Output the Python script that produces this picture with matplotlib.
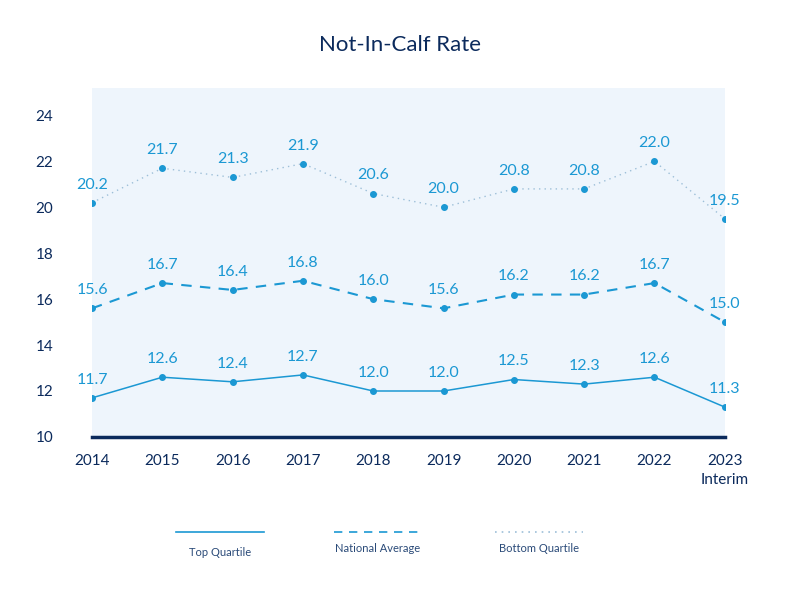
import matplotlib.pyplot as plt
from matplotlib.lines import Line2D

years = ["2014", "2015", "2016", "2017", "2018", "2019", "2020", "2021", "2022", "2023\nInterim"]
top_quartile = [11.7, 12.6, 12.4, 12.7, 12.0, 12.0, 12.5, 12.3, 12.6, 11.3]
national_avg = [15.6, 16.7, 16.4, 16.8, 16.0, 15.6, 16.2, 16.2, 16.7, 15.0]
bottom_quartile = [20.2, 21.7, 21.3, 21.9, 20.6, 20.0, 20.8, 20.8, 22.0, 19.5]

line_col = "#1b98d3"
navy = "#0b2a5c"
plt.rcParams['font.family'] = ['Lato', 'DejaVu Sans']

fig = plt.figure(figsize=(8, 6.06), dpi=100)
ax = fig.add_axes([0.115, 0.279, 0.791, 0.576])
ax.set_facecolor("#eef5fc")

x = range(len(years))
ax.plot(x, top_quartile, color=line_col, lw=1.1, marker="o", ms=4)
ax.plot(x, national_avg, color=line_col, lw=1.5, ls=(0, (5, 4)), marker="o", ms=4)
ax.plot(x, bottom_quartile, color="#9dbfd8", lw=1, ls=(0, (1, 3)), marker="o", ms=4,
        mfc=line_col, mec=line_col)

for series in [top_quartile, national_avg, bottom_quartile]:
    for i, v in enumerate(series):
        ax.annotate(f"{v:.1f}", (i, v), xytext=(0, 8), textcoords="offset points",
                    ha="center", va="bottom", color=line_col, fontsize=11.5)

ax.set_xlim(0, len(years) - 1)
ax.set_ylim(10, 25.2)
ax.set_yticks([10, 12, 14, 16, 18, 20, 22, 24])
ax.set_xticks(list(x))
ax.set_xticklabels(years, linespacing=1.5)
ax.tick_params(length=0, labelsize=11, labelcolor=navy)
ax.tick_params(axis="x", pad=12)
ax.tick_params(axis="y", pad=28)
for lab in ax.get_xticklabels():
    lab.set_verticalalignment("top")
for s in ["top", "right", "left"]:
    ax.spines[s].set_visible(False)
ax.spines["bottom"].set_color(navy)
ax.spines["bottom"].set_linewidth(2.5)

fig.text(0.5, 0.925, "Not-In-Calf Rate", ha="center", va="center", fontsize=16, color=navy)

# legend drawn below the chart
legend_items = [("Top Quartile", "-", line_col, 0.275, 0.088),
                ("National Average", (0, (5, 4)), line_col, 0.472, 0.095),
                ("Bottom Quartile", (0, (1, 3)), "#9dbfd8", 0.674, 0.095)]
for label, ls, col, cx, ty in legend_items:
    fig.add_artist(Line2D([cx - 0.055, cx + 0.055], [0.122, 0.122], transform=fig.transFigure,
                          color=col, ls=ls, lw=1.2))
    fig.text(cx, ty, label, ha="center", va="center", fontsize=8, color="#2a4a78")

fig.savefig("out.png", dpi=100)
